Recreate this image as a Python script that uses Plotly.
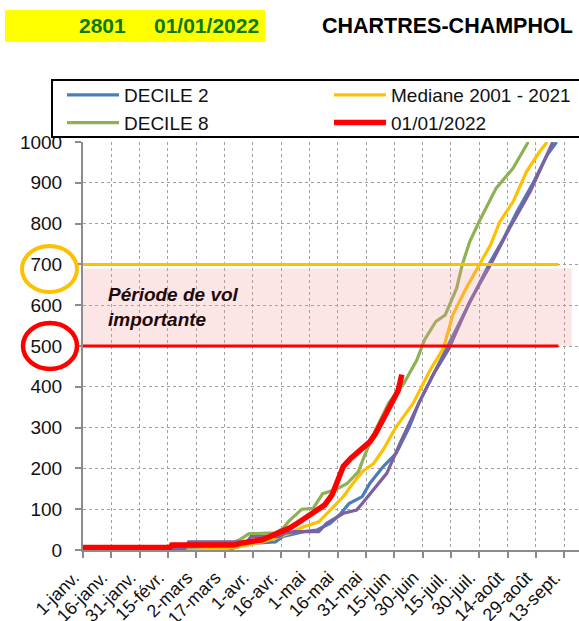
import plotly.graph_objects as go

# ---------------- data ----------------
tick_days = [0, 15, 30, 45, 60, 75, 90, 105, 120, 135, 150, 165, 180, 195, 210, 225, 240, 255]
tick_labels = ["1-janv.", "16-janv.", "31-janv.", "15-févr.", "2-mars", "17-mars", "1-avr.",
               "16-avr.", "1-mai", "16-mai", "31-mai", "15-juin", "30-juin", "15-juil.",
               "30-juil.", "14-août", "29-août", "13-sept."]
y_ticks = [0, 100, 200, 300, 400, 500, 600, 700, 800, 900, 1000]

decile2_days = [0, 75, 80, 88, 102, 106, 117, 124, 131, 136, 141, 148, 152, 159, 166, 173, 178,
                186, 193, 200, 210, 216, 223, 230, 239, 246, 251]
decile2_vals = [0, 0, 5, 16, 20, 33, 45, 49, 65, 86, 114, 131, 163, 204, 237, 302, 360,
                433, 495, 560, 650, 707, 764, 829, 903, 968, 1000]

mediane_days = [0, 60, 75, 85, 95, 102, 110, 117, 125, 131, 138, 143, 148, 154, 159, 166, 175,
                180, 184, 191, 193, 196, 203, 210, 216, 221, 228, 235, 242, 246]
mediane_vals = [0, 0, 3, 10, 20, 29, 42, 57, 69, 98, 131, 163, 192, 212, 245, 302, 360,
                405, 441, 494, 527, 576, 641, 699, 748, 805, 854, 927, 976, 1000]

decile8_days = [0, 45, 55, 70, 78, 83, 88, 102, 106, 109, 116, 122, 127, 134, 140, 146, 149,
                155, 162, 170, 177, 181, 187, 192, 198, 201, 205, 210, 219, 228, 236]
decile8_vals = [0, 0, 5, 10, 15, 25, 40, 42, 53, 70, 100, 102, 138, 148, 163, 192, 229,
                294, 360, 408, 466, 515, 560, 576, 641, 699, 756, 805, 887, 936, 1000]

autre_days = [0, 25, 28, 54, 56, 87, 89, 104, 107, 112, 125, 129, 138, 145, 148, 154, 161,
              168, 173, 178, 186, 194, 196, 205, 216, 226, 237, 244, 249]
autre_vals = [0, 0, 4, 4, 20, 20, 33, 33, 41, 45, 45, 65, 90, 98, 114, 147, 188,
              261, 310, 360, 433, 494, 515, 609, 699, 788, 878, 952, 1000]

y2022_days = [0, 46, 47, 80, 85, 95, 100, 105, 110, 115, 120, 125, 128, 132, 135, 138, 142,
              146, 148, 152, 155, 158, 161, 163, 165, 167, 168, 169]
y2022_vals = [6, 6, 12, 12, 18, 25, 35, 45, 55, 70, 86, 100, 110, 135, 170, 205, 225,
              240, 250, 265, 285, 310, 335, 350, 368, 390, 410, 430]

seuil_bas = 500
seuil_haut = 700
zone_haut = 690
fin_seuils = 252
fin_zone = 259

# ---------------- layout geometry (pixels) ----------------
W, H = 579, 621
ML, MR, MT, MB = 83, 0, 142, 71
PW = W - ML - MR
PH = H - MT - MB
PX_PER_DAY = 28.3 / 15.0
x_max = PW / PX_PER_DAY


def px(xpix):
    return (xpix - ML) / PW


def py(ypix):
    return (H - MB - ypix) / PH


FONT = "Liberation Sans, Arial, sans-serif"

fig = go.Figure()

series = [
    ("DECILE 2", decile2_days, decile2_vals, "#4A7EBB", 3.2, 1, True),
    ("Mediane 2001 - 2021", mediane_days, mediane_vals, "#FFC000", 3.2, 2, True),
    ("DECILE 8", decile8_days, decile8_vals, "#8FB053", 3.2, 3, True),
    ("autre", autre_days, autre_vals, "#7B61A0", 3.2, 5, False),
    ("01/01/2022", y2022_days, y2022_vals, "#FF0000", 5.5, 4, True),
]
for name, xs, ys, col, w, rank, show in series:
    fig.add_trace(go.Scatter(
        x=xs, y=ys, mode="lines", name=name,
        line=dict(color=col, width=w),
        legendrank=rank, showlegend=show, hoverinfo="skip"))

shapes = []
# legend frame
shapes.append(dict(type="rect", xref="paper", yref="paper", x0=px(52), x1=px(600), y0=py(137), y1=py(80),
                   fillcolor="white", line=dict(color="#000000", width=2), layer="above"))
# pink zone (semi-transparent, above traces)
shapes.append(dict(type="rect", xref="x", yref="y", x0=0, x1=fin_zone, y0=seuil_bas, y1=zone_haut,
                   fillcolor="rgba(240,150,150,0.25)", line=dict(width=0), layer="above"))
shapes.append(dict(type="line", xref="x", yref="y", x0=0, x1=fin_seuils, y0=seuil_haut, y1=seuil_haut,
                   line=dict(color="#FFC000", width=3), layer="above"))
shapes.append(dict(type="line", xref="x", yref="y", x0=0, x1=fin_seuils, y0=seuil_bas, y1=seuil_bas,
                   line=dict(color="#FF0000", width=3), layer="above"))
# ellipses around tick labels
shapes.append(dict(type="circle", xref="paper", yref="paper", x0=px(22), x1=px(77), y0=py(292), y1=py(246),
                   line=dict(color="#FFC000", width=4)))
shapes.append(dict(type="circle", xref="paper", yref="paper", x0=px(23), x1=px(77), y0=py(369), y1=py(323),
                   line=dict(color="#FF0000", width=4.5)))
# yellow header box
shapes.append(dict(type="rect", xref="paper", yref="paper", x0=px(5), x1=px(265), y0=py(42), y1=py(10),
                   fillcolor="#FFFF00", line=dict(width=0)))

annotations = [
    dict(text="<b>2801</b>", xref="paper", yref="paper", x=px(102), y=py(26), xanchor="center",
         yanchor="middle", showarrow=False, font=dict(family=FONT, size=21, color="#0B7A0B")),
    dict(text="<b>01/01/2022</b>", xref="paper", yref="paper", x=px(206), y=py(26), xanchor="center",
         yanchor="middle", showarrow=False, font=dict(family=FONT, size=21, color="#0B7A0B")),
    dict(text="<b>CHARTRES-CHAMPHOL</b>", xref="paper", yref="paper", x=px(320), y=py(26),
         xanchor="left", yanchor="middle", showarrow=False,
         font=dict(family=FONT, size=21.5, color="#000000")),
    dict(text="<b><i>Période de vol<br>importante</i></b>", xref="paper", yref="paper", x=px(106),
         y=py(307), xanchor="left", yanchor="middle", align="left", showarrow=False,
         font=dict(family=FONT, size=19, color="#1E0A0A")),
]

fig.update_layout(
    width=W, height=H,
    margin=dict(l=ML, r=MR, t=MT, b=MB, pad=0, autoexpand=False),
    paper_bgcolor="white", plot_bgcolor="white",
    font=dict(family=FONT, size=19, color="#111111"),
    shapes=shapes, annotations=annotations,
    showlegend=True,
    legend=dict(
        orientation="h", x=px(62), y=py(76), xanchor="left", yanchor="top",
        bgcolor="rgba(0,0,0,0)", borderwidth=0,
        font=dict(family=FONT, size=19, color="#111111"),
        itemwidth=52, entrywidth=200, entrywidthmode="pixels",
        tracegroupgap=0, itemclick=False,
    ),
    xaxis=dict(
        range=[0, x_max], tickmode="array", tickvals=tick_days, ticktext=tick_labels,
        tickangle=-45, tickfont=dict(size=18, color="#111111"), automargin=False,
        ticklabelstandoff=2, ticklabelshift=-9,
        showgrid=True, gridcolor="#A0A0A0", griddash="dot", gridwidth=1,
        showline=True, linecolor="#8C8C8C", linewidth=2,
        ticks="outside", ticklen=6, tickcolor="#8C8C8C", tickwidth=1.5,
        zeroline=False, fixedrange=True,
    ),
    yaxis=dict(
        range=[0, 1000], tickmode="array", tickvals=y_ticks, automargin=False,
        tickfont=dict(size=19, color="#111111"), ticklabelstandoff=9,
        showgrid=True, gridcolor="#A0A0A0", griddash="dot", gridwidth=1,
        showline=True, linecolor="#8C8C8C", linewidth=2,
        ticks="outside", ticklen=6, tickcolor="#8C8C8C", tickwidth=1.5,
        zeroline=False, fixedrange=True,
    ),
)

fig.write_html("out.html", config={"displayModeBar": False},
               post_script="document.body.style.margin='0';document.body.style.padding='0';")
